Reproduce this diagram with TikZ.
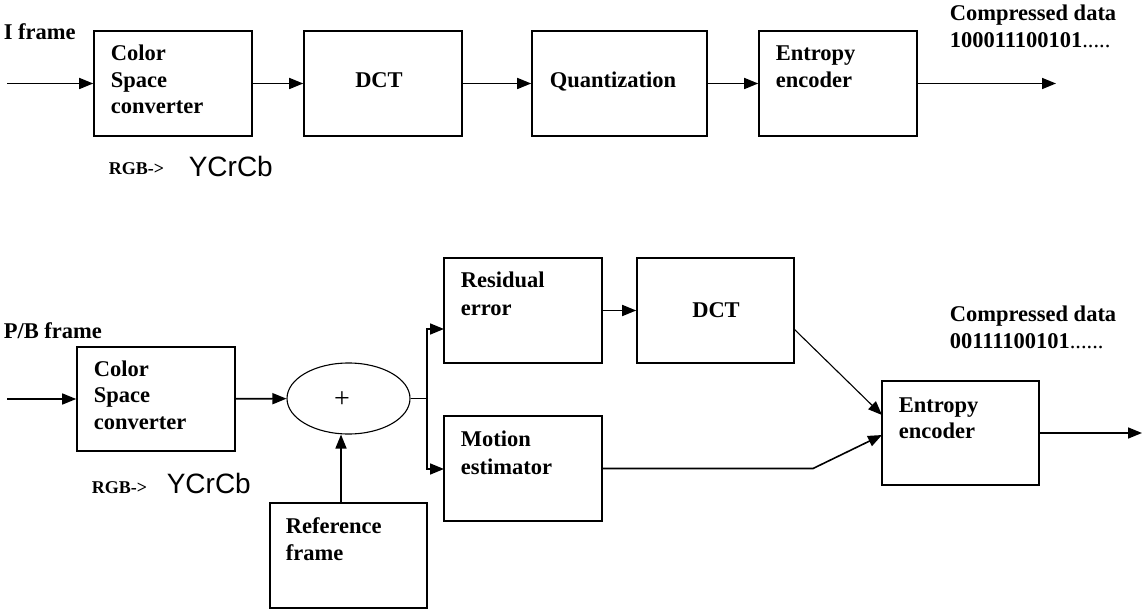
\documentclass[tikz,border=0pt]{standalone}
\usepackage{fontspec}
\usetikzlibrary{arrows.meta,shapes.geometric}
\newfontfamily\dfont{Liberation Serif}
\newfontfamily\ysans{Liberation Sans}
\begin{document}
\begin{tikzpicture}[x=1pt,y=-1pt,line width=1.6pt,
  box/.style={draw,rectangle,inner sep=0pt},
  txt/.style={anchor=base west,inner sep=0pt,font=\dfont\bfseries\fontsize{22.5pt}{26pt}\selectfont},
  ctxt/.style={txt,anchor=base},
  rgb/.style={anchor=base west,inner sep=0pt,font=\dfont\bfseries\fontsize{18pt}{21pt}\selectfont},
  ycc/.style={anchor=base west,inner sep=0pt,font=\ysans\fontsize{28pt}{32pt}\selectfont},
  arr/.style={-{Triangle[length=14pt,width=11pt]}},
  thin line/.style={line width=1.1pt}]
\useasboundingbox[fill=white] (0,0) rectangle (1143,612);

% ---------- top row ----------
\node[box,minimum width=158pt,minimum height=105pt] (cs1) at (173,83.5) {};
\node[box,minimum width=158pt,minimum height=105pt] (dct1) at (383,83.5) {};
\node[box,minimum width=175pt,minimum height=105pt] (qua) at (619.5,83.5) {};
\node[box,minimum width=158pt,minimum height=105pt] (ent1) at (838,83.5) {};

\node[txt] (iframe) at (3,40) {I frame};
\node[txt] (cs1a) at (110,61) {Color};
\node[txt] (cs1b) at (110,88) {Space};
\node[txt] (cs1c) at (110,114) {converter};
\node[ctxt] (dct1t) at (379,88) {DCT};
\node[txt] (quat) at (549,88) {Quantization};
\node[txt] (ent1a) at (775,61) {Entropy};
\node[txt] (ent1b) at (775,88) {encoder};
\node[txt] (cd1a) at (949,21) {Compressed data};
\node[txt] (cd1b) at (949,48) {100011100101{\mdseries.....}};
\node[rgb] (rgb1) at (108,175) {RGB->};
\node[ycc] (ycc1) at (188,177) {YCrCb};

\coordinate (i1) at (7,83.5);
\coordinate (o1) at (1056,83.5);
\draw[arr] (i1) -- (cs1.west);
\draw[arr] (cs1) -- (dct1);
\draw[arr] (dct1) -- (qua);
\draw[arr] (qua) -- (ent1);
\draw[arr] (ent1.east) -- (o1);

% ---------- bottom row ----------
\node[box,minimum width=158pt,minimum height=104pt] (cs2) at (156,399) {};
\node[draw,ellipse,thin line,inner sep=0pt,minimum width=123pt,minimum height=71pt] (ell) at (348.5,398.5) {};
\node[inner sep=0pt,font=\dfont\fontsize{28pt}{32pt}\selectfont] (plus) at (342,400) {+};
\node[box,minimum width=157pt,minimum height=105pt] (ref) at (348.5,555.5) {};
\node[box,minimum width=158pt,minimum height=105pt] (res) at (523,310.5) {};
\node[box,minimum width=157pt,minimum height=105pt] (dct2) at (715.5,310.5) {};
\node[box,minimum width=158pt,minimum height=105pt] (mot) at (523,468.5) {};
\node[box,minimum width=157pt,minimum height=104pt] (ent2) at (960.5,433) {};

\node[txt] (pbframe) at (3,338) {P/B frame};
\node[txt] (cs2a) at (93,376) {Color};
\node[txt] (cs2b) at (93,402.5) {Space};
\node[txt] (cs2c) at (93,429) {converter};
\node[rgb] (rgb2) at (91,493) {RGB->};
\node[ycc] (ycc2) at (166,493) {YCrCb};
\node[txt] (refa) at (285,533) {Reference};
\node[txt] (refb) at (285,560) {frame};
\node[txt] (resa) at (460,288) {Residual};
\node[txt] (resb) at (460,316) {error};
\node[ctxt] (dct2t) at (716,317) {DCT};
\node[txt] (mota) at (460,446) {Motion};
\node[txt] (motb) at (460,474) {estimator};
\node[txt] (ent2a) at (898,412) {Entropy};
\node[txt] (ent2b) at (898,438) {encoder};
\node[txt] (cd2a) at (949,322) {Compressed data};
\node[txt] (cd2b) at (949,348) {00111100101{\mdseries......}};

\coordinate (i2) at (7,399);
\coordinate (br) at (427,398.5);
\coordinate (rIn) at (444,329);
\coordinate (mIn) at (444,469);
\coordinate (rTop) at (341,503);
\coordinate (d2o) at (794,329);
\coordinate (eIn1) at (882,415);
\coordinate (bend) at (813,468.5);
\coordinate (eIn2) at (882,435);
\coordinate (o2) at (1142,433);

\draw[arr] (i2) -- (cs2.west);
\draw[arr] (cs2) -- (ell);
\draw (ell.east) -- (br);
\draw[arr] (br) |- (rIn);
\draw[arr] (br) |- (mIn);
\draw[arr] (rTop) -- (rTop |- ell.south);
\draw[arr] (res) -- (dct2);
\draw[arr,thin line] (d2o) -- (eIn1);
\draw[arr] (mot.east) -- (bend) -- (eIn2);
\draw[arr] (ent2.east) -- (o2);
\end{tikzpicture}
\end{document}
